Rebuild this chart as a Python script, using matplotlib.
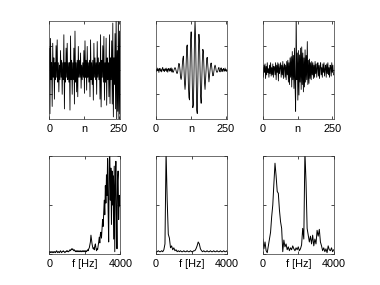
import numpy as np
import matplotlib
matplotlib.use("Agg")
import matplotlib.pyplot as plt

plt.rcParams['font.family'] = ['Liberation Sans', 'DejaVu Sans']

# ---- time-domain signals (sample index 0,2,...,254) ----
n_step = 2
sig1 = [0.9, -1.8, 1.3, -0.4, 0.3, -1.5, 1.1, -0.3,
        0.5, -1.2, 0.3, -0.4, 1.0, -0.3, 1.24, -0.5,
        0.3, -0.9, 0.2, -0.4, 0.8, -0.3, 0.4, -1.0,
        0.3, -0.4, 1.45, -1.6, 0.3, -0.5, 0.9, -0.3,
        1.1, -0.4, 0.3, -0.5, 0.3, -1.65, 1.4, -0.4,
        0.4, -1.0, 0.3, -0.4, 0.9, -1.4, 1.6, -0.5,
        0.3, -0.9, 0.4, -1.1, 0.97, -0.3, 0.4, -0.3,
        0.7, -0.75, 0.2, -0.4, 0.3, -0.3, 0.8, -0.96,
        1.2, -0.3, 0.4, -0.83, 0.97, -0.3, 0.3, -0.5,
        0.4, -1.1, 1.24, -0.4, 0.3, -0.6, 0.4, -1.24,
        1.1, -0.3, 0.5, -0.4, 0.3, -1.0, 1.17, -0.3,
        0.5, -0.4, 0.3, -1.2, 1.45, -1.52, 0.4, -0.3,
        1.0, -0.5, 1.38, -1.24, 0.3, -0.5, 1.31, -1.45,
        0.5, -0.4, 0.3, -1.1, 1.45, -1.38, 0.5, -0.4,
        1.2, -1.4, 1.93, -1.93, 0.5, -0.6, 1.5, -1.6,
        2.3, -2.2, 0.8, -1.7, 2.4, -2.3, 1.6, -1.8]

sig2 = [0.02, -0.06, 0.08, -0.03, 0.05, -0.1, 0.04, 0.07,
        -0.05, 0.02, -0.08, 0.06, 0.1, -0.04, 0.03, -0.07,
        0.05, -0.02, 0.08, -0.06, 0.04, -0.09, 0.06, 0.03,
        -0.05, 0.07, -0.04, 0.09, -0.08, 0.05,
        -0.09, -0.09, -0.02, 0.06, 0.10, 0.06, -0.03, -0.13,
        -0.14, -0.05, 0.14, 0.27, 0.22, 0.0, -0.31, -0.39,
        -0.25, 0.17, 0.47, 0.57, 0.11, -0.51, -0.80, -0.51,
        0.19, 0.96, 1.03, 0.39, -0.58, -1.13, -1.23, 0.0,
        1.23, 1.57, 0.83, -0.56, -1.55, -1.44, -0.34, 1.28,
        2.05, 1.28, -0.32, -1.65, -1.79, -0.51, 0.75, 1.47,
        1.16, 0.0, -1.08, -1.37, -0.45, 0.31, 0.85, 0.78,
        0.14, -0.51, -0.80, -0.35, 0.09, 0.48, 0.52, 0.17,
        -0.25, -0.49, -0.23, 0.0, 0.23, 0.29, 0.13, -0.09,
        -0.24, -0.22, -0.03, 0.13, 0.20, 0.13, -0.02, -0.09,
        -0.09,
        -0.04, 0.08, 0.1, -0.03, -0.08, 0.05, 0.09, -0.06,
        0.03, -0.07, 0.06, 0.02, -0.05, 0.08, -0.04, 0.03, -0.06]

sig3 = [0.1, -0.3, 0.2, -0.1, 0.25, -0.35, 0.15, -0.2,
        0.3, -0.1, 0.05, -0.3, 0.2, -0.15, 0.3, -0.25,
        0.1, -0.2, 0.25, -0.3, 0.15, 0.05, -0.2, 0.3,
        -0.4, 0.2, -0.1, 0.3, -0.45, 0.25, -0.15, 0.1,
        0.3, -0.3, 0.2, -0.2, 0.35, -0.35, 0.1, 0.25,
        -0.3, 0.2, -0.4, 0.35, -0.2, 0.4, -0.5, 0.3,
        -0.6, 0.5, -0.3, 0.55, -0.7, 0.76, -0.4, 0.6,
        -0.76, 0.9, -0.6, -1.7, 2.3, -0.4, 0.7, -1.24,
        0.8, -1.03, 0.62, -0.5, 0.9, -0.8, 0.95, -0.6,
        0.7, -0.9, 0.5, -0.7, 0.83, -0.5, 0.6, -0.4,
        1.17, -0.6, 0.4, -0.55, 0.45, -0.35, 0.3, -0.4,
        0.35, -0.2, 0.3, -0.35, 0.2, -0.3, 0.35, -0.15,
        0.25, -0.3, 0.1, 0.3, -0.25, 0.2, -0.35, 0.15,
        0.3, -0.2, 0.1, -0.3, 0.25, -0.1, 0.3, -0.25,
        0.05, 0.2, -0.3, 0.25, -0.15, 0.3, -0.2, 0.1,
        -0.3, 0.2, 0.15, -0.25, 0.3, -0.1, 0.2, -0.2]

# ---- magnitude spectra ----
spec1 = [0.02, 0.01, 0.02, 0.01, 0.02, 0.02, 0.01, 0.02, 0.01, 0.02, 0.02, 0.01, 0.02, 0.03, 0.02, 0.01,
         0.02, 0.02, 0.01, 0.02, 0.03, 0.02, 0.01, 0.02, 0.02, 0.03, 0.02, 0.02, 0.01, 0.02, 0.02, 0.03,
         0.02, 0.03, 0.02, 0.02, 0.03, 0.04, 0.03, 0.04, 0.05, 0.04, 0.05, 0.04, 0.03, 0.04, 0.03, 0.02,
         0.03, 0.02, 0.03, 0.02, 0.03, 0.02, 0.02, 0.03, 0.02, 0.03, 0.02, 0.02, 0.03, 0.02, 0.03, 0.02,
         0.03, 0.02, 0.03, 0.02, 0.03, 0.04, 0.03, 0.05,
         0.06, 0.09, 0.12, 0.19, 0.14, 0.10, 0.07, 0.05,
         0.06, 0.04, 0.08, 0.10, 0.06, 0.03, 0.05, 0.04,
         0.08, 0.12, 0.17, 0.11, 0.20, 0.22, 0.16, 0.25,
         0.35, 0.28, 0.43, 0.55, 0.40, 0.70, 0.52, 0.81,
         0.60, 0.98, 0.45, 0.12, 0.95, 1.05, 0.55, 0.88,
         0.30, 0.85, 0.50, 0.80, 0.15, 0.90, 0.02, 0.70,
         0.95, 0.40, 0.05, 0.75, 0.85, 0.35, 0.60, 0.50, 0.48]

spec2 = [0.02, 0.02, 0.03, 0.02, 0.02, 0.03, 0.02, 0.04,
         0.10, 1.05, 0.55, 0.20, 0.16, 0.06, 0.08, 0.04,
         0.06, 0.03, 0.04, 0.02, 0.03, 0.02, 0.03, 0.02,
         0.02, 0.03, 0.02, 0.02, 0.03, 0.02, 0.02, 0.03,
         0.02, 0.02, 0.03, 0.03, 0.05, 0.08, 0.12, 0.10,
         0.05, 0.03, 0.02, 0.03, 0.02, 0.02, 0.03, 0.02,
         0.02, 0.03, 0.02, 0.02, 0.03, 0.02, 0.02, 0.03,
         0.02, 0.02, 0.03, 0.02, 0.02, 0.03, 0.02, 0.02, 0.03]

spec3 = [0.15, 0.05, 0.12, 0.03, 0.01, 0.08, 0.15, 0.22,
         0.38, 0.50, 0.72, 0.93, 0.80, 0.64, 0.62, 0.45,
         0.33, 0.26, 0.02, 0.14, 0.07, 0.10, 0.04, 0.07,
         0.03, 0.06, 0.04, 0.08, 0.05, 0.03, 0.06, 0.04,
         0.07, 0.03, 0.05, 0.09, 0.26, 0.15, 1.05, 0.74,
         0.26, 0.19, 0.12, 0.18, 0.10, 0.19, 0.08, 0.15,
         0.10, 0.24, 0.18, 0.25, 0.12, 0.08, 0.03, 0.06,
         0.02, 0.05, 0.01, 0.08, 0.04, 0.03, 0.06, 0.02, 0.04]

time_ticks = [0, 125, 250]
time_ticklabels = ['0', 'n', '250']
freq_ticks = [0, 2000, 4000]
freq_ticklabels = ['0', 'f [Hz]', '4000']

fig = plt.figure(figsize=(3.8, 2.85), dpi=100)
lefts = [0.13, 0.4108, 0.6916]
width = 0.1866
height = 0.3412
bottoms = [0.5838, 0.11]

def style(ax):
    ax.tick_params(direction='in', length=2, width=0.5, top=True, right=True,
                   labelsize=7.8, pad=4, colors='black')
    ax.set_yticklabels([])
    for s in ax.spines.values():
        s.set_linewidth(0.5)
        s.set_color('#333333')

for i, sig in enumerate([sig1, sig2, sig3]):
    ax = fig.add_axes([lefts[i], bottoms[0], width, height])
    n = np.arange(len(sig)) * n_step
    ax.plot(n, sig, color='black', lw=0.6)
    ax.set_xlim(0, 255)
    ax.set_ylim(-2, 2)
    ax.set_xticks(time_ticks)
    ax.set_xticklabels(time_ticklabels)
    ax.set_yticks([-1, 0, 1])
    style(ax)

for i, sp in enumerate([spec1, spec2, spec3]):
    ax = fig.add_axes([lefts[i], bottoms[1], width, height])
    f = np.linspace(0, 4000, len(sp))
    ax.plot(f, sp, color='black', lw=0.7)
    ax.set_xlim(0, 4000)
    ax.set_ylim(0, 1)
    ax.set_xticks(freq_ticks)
    ax.set_xticklabels(freq_ticklabels)
    ax.set_yticks([0, 0.5, 1])
    style(ax)

fig.savefig('out.png', dpi=100, facecolor='white')
